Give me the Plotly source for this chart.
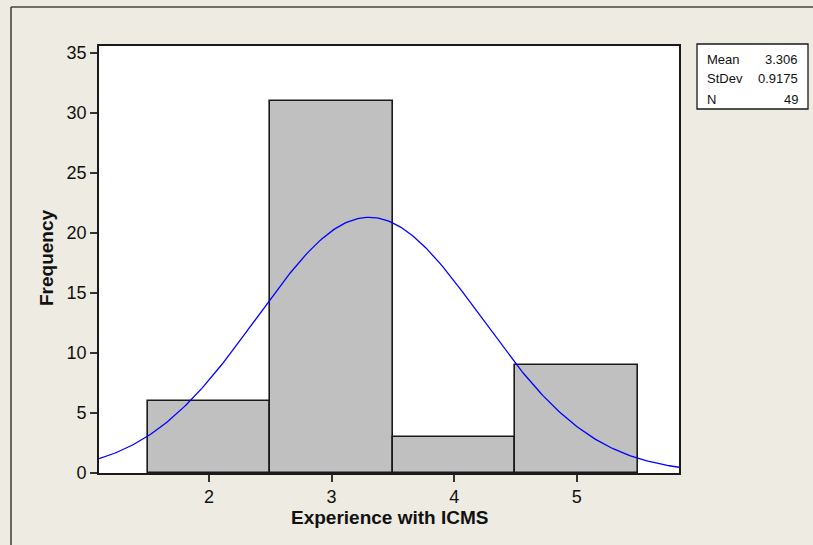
import numpy as np
import plotly.graph_objects as go

# Data
bin_centers = [2, 3, 4, 5]
frequencies = [6, 31, 3, 9]
bin_width = 1.0
stat_labels = ["Mean", "StDev", "N"]
stat_values = ["3.306", "0.9175", "49"]
mean_val = 3.306
sd_val = 0.9175
n_val = 49

x_range = [1.103, 5.834]
y_range = [0, 35.58]
y_ticks = [0, 5, 10, 15, 20, 25, 30, 35]
x_ticks = [2, 3, 4, 5]

# Fitted normal curve from the displayed statistics
xs = np.linspace(x_range[0], x_range[1], 300)
ys = n_val * bin_width / (sd_val * np.sqrt(2 * np.pi)) * np.exp(-0.5 * ((xs - mean_val) / sd_val) ** 2)

fig = go.Figure()
fig.add_trace(go.Bar(
    x=bin_centers, y=frequencies, width=bin_width,
    marker=dict(color="#C0C0C0", line=dict(color="#1a1a1a", width=1.6)),
    showlegend=False, hoverinfo="x+y",
))
fig.add_trace(go.Scatter(
    x=xs, y=ys, mode="lines",
    line=dict(color="#0000FF", width=1.3),
    showlegend=False,
))

W, H = 813, 545
L, R, T, B = 99, 679, 46, 473

def px(x):
    return (x - L) / (R - L)

def py(y):
    return (B - y) / (B - T)

font_family = "Liberation Sans, Arial, sans-serif"

fig.update_layout(
    width=W, height=H,
    margin=dict(l=L, r=W - R, t=T, b=H - B),
    paper_bgcolor="#EEEBE2",
    plot_bgcolor="#FFFFFF",
    bargap=0,
    font=dict(family=font_family, color="#111111"),
    xaxis=dict(
        range=x_range, tickvals=x_ticks, ticktext=[str(t) for t in x_ticks],
        showgrid=False, zeroline=False,
        showline=True, linecolor="#1a1a1a", linewidth=1.6, mirror=True,
        ticks="outside", ticklen=7, tickwidth=1.6, tickcolor="#333333",
        tickfont=dict(size=18, family=font_family, color="#111111"),
    ),
    yaxis=dict(
        range=y_range, tickvals=y_ticks, ticktext=[str(t) for t in y_ticks],
        showgrid=False, zeroline=False,
        showline=True, linecolor="#1a1a1a", linewidth=1.6, mirror=True,
        ticks="outside", ticklen=7, tickwidth=1.6, tickcolor="#333333",
        tickfont=dict(size=18, family=font_family, color="#111111"),
    ),
)

# Axis titles
fig.add_annotation(text="<b>Experience with ICMS</b>", x=0.5, y=py(517), xref="paper", yref="paper",
                   showarrow=False, font=dict(size=19, family=font_family, color="#111111"),
                   xanchor="center", yanchor="middle")
fig.add_annotation(text="<b>Frequency</b>", x=px(46), y=py(258), xref="paper", yref="paper",
                   showarrow=False, textangle=-90, font=dict(size=19, family=font_family, color="#111111"),
                   xanchor="center", yanchor="middle")

# Outer frame lines (top and left)
fig.add_shape(type="line", xref="paper", yref="paper", x0=px(11), x1=px(W), y0=py(7), y1=py(7),
              line=dict(color="#444444", width=1.6))
fig.add_shape(type="line", xref="paper", yref="paper", x0=px(11), x1=px(11), y0=py(7), y1=py(H),
              line=dict(color="#444444", width=1.6))

# Stats box
fig.add_shape(type="rect", xref="paper", yref="paper", x0=px(697), x1=px(808), y0=py(44), y1=py(109),
              line=dict(color="#1a1a1a", width=1.3), fillcolor="#FFFFFF")
row_y = [59, 79, 99]
for lab, val, ry in zip(stat_labels, stat_values, row_y):
    fig.add_annotation(text=lab, x=px(705), y=py(ry), xref="paper", yref="paper", showarrow=False,
                       xanchor="left", yanchor="middle", font=dict(size=13, family=font_family, color="#111111"))
    fig.add_annotation(text=val, x=px(800), y=py(ry), xref="paper", yref="paper", showarrow=False,
                       xanchor="right", yanchor="middle", font=dict(size=13, family=font_family, color="#111111"))

fig.write_html(
    "out.html",
    config={"displayModeBar": False},
    post_script="document.body.style.margin='0';document.body.style.padding='0';"
                "document.body.style.overflow='hidden';document.body.style.background='#EEEBE2';",
)
